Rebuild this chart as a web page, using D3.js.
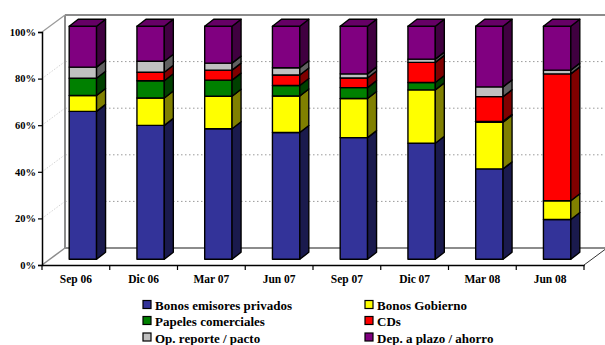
<!DOCTYPE html>
<html>
<head>
<meta charset="utf-8">
<script src="https://cdn.jsdelivr.net/npm/d3@7"></script>
<style>
  html, body { margin: 0; padding: 0; background: #fff; }
  svg { display: block; }
  text { font-family: "Liberation Serif", "Times New Roman", serif; font-weight: bold; fill: #000; }
</style>
</head>
<body>
<svg id="chart" width="605" height="345"></svg>
<script>
// Portfolio composition by quarter (% of total)
const categories = ["Sep 06", "Dic 06", "Mar 07", "Jun 07", "Sep 07", "Dic 07", "Mar 08", "Jun 08"];
const seriesNames = ["Bonos emisores privados", "Bonos Gobierno", "Papeles comerciales", "CDs", "Op. reporte / pacto", "Dep. a plazo / ahorro"];
const bonosPrivados   = [63.5, 57.5, 56.0, 54.4, 52.2, 49.8, 38.8, 17.1];
const bonosGobierno   = [ 6.8, 11.7, 14.0, 15.7, 16.8, 22.9, 20.0,  8.0];
const papelesComerc   = [ 7.4,  7.4,  6.9,  4.5,  4.7,  3.2,  0.4,  0.0];
const cds             = [ 0.0,  3.7,  4.3,  4.5,  4.1,  8.6, 10.6, 54.5];
const opReporte       = [ 4.8,  4.7,  3.0,  3.1,  1.8,  1.4,  4.2,  1.6];
const depPlazo        = [17.5, 15.0, 15.8, 17.8, 20.4, 14.1, 26.0, 18.8];
const yTicks = [0, 20, 40, 60, 80, 100];

const seriesValues = [bonosPrivados, bonosGobierno, papelesComerc, cds, opReporte, depPlazo];
const frontColors = ["#333399", "#ffff00", "#008000", "#ff0000", "#c0c0c0", "#800080"];
const sideColors  = ["#1a1a4d", "#808000", "#004000", "#800000", "#606060", "#400040"];
const topColors   = ["#29297a", "#cccc00", "#006600", "#cc0000", "#9a9a9a", "#660066"];

const svg = d3.select("#chart");

// Plot frame: front plane and depth offset of the back wall
const plotLeft = 42, plotRight = 584, plotBottom = 265, plotTop = 32;
const depthX = 23, depthY = -17;
// bars sit a little behind the front plane and have their own depth
const barShiftX = 7, barShiftY = -5.7;
const barDX = 9, barDY = -7;

const x = d3.scaleBand().domain(categories).range([plotLeft, plotRight])
  .paddingInner(0.596).paddingOuter(0.298);
const y = d3.scaleLinear().domain([0, 100]).range([plotBottom, plotTop]);

// Back wall gridlines (dotted)
const grid = svg.append("g");
yTicks.filter(t => t > 0 && t < 100).forEach(t => {
  grid.append("line")
    .attr("x1", plotLeft + depthX).attr("x2", 605)
    .attr("y1", y(t) + depthY).attr("y2", y(t) + depthY)
    .attr("stroke", "#9a9a9a").attr("stroke-width", 1).attr("stroke-dasharray", "1.5,2.5");
  grid.append("line")
    .attr("x1", plotLeft).attr("x2", plotLeft + depthX)
    .attr("y1", y(t)).attr("y2", y(t) + depthY)
    .attr("stroke", "#c8c8c8").attr("stroke-width", 0.8).attr("stroke-dasharray", "1.5,1.5");
});

// Walls and floor edges
const frame = svg.append("g").attr("fill", "none");
frame.append("line") // back wall top
  .attr("x1", plotLeft + depthX).attr("x2", 605)
  .attr("y1", y(100) + depthY).attr("y2", y(100) + depthY)
  .attr("stroke", "#8c8c8c").attr("stroke-width", 2);
frame.append("line") // back wall left edge
  .attr("x1", plotLeft + depthX).attr("x2", plotLeft + depthX)
  .attr("y1", y(100) + depthY).attr("y2", y(0) + depthY)
  .attr("stroke", "#8c8c8c").attr("stroke-width", 2);
frame.append("line") // floor back edge
  .attr("x1", plotLeft + depthX).attr("x2", 605)
  .attr("y1", y(0) + depthY).attr("y2", y(0) + depthY)
  .attr("stroke", "#8c8c8c").attr("stroke-width", 2);
frame.append("line") // side wall top
  .attr("x1", plotLeft).attr("x2", plotLeft + depthX)
  .attr("y1", y(100)).attr("y2", y(100) + depthY)
  .attr("stroke", "#9a9a9a").attr("stroke-width", 1.2);
frame.append("line") // floor left edge
  .attr("x1", plotLeft).attr("x2", plotLeft + depthX)
  .attr("y1", y(0)).attr("y2", y(0) + depthY)
  .attr("stroke", "#8c8c8c").attr("stroke-width", 1.5);
frame.append("line") // floor right edge
  .attr("x1", plotRight).attr("x2", plotRight + depthX)
  .attr("y1", y(0)).attr("y2", y(0) + depthY)
  .attr("stroke", "#333").attr("stroke-width", 1);

// Stacked 3D bars
const stackData = categories.map((c, i) => {
  const row = { cat: c };
  seriesValues.forEach((s, k) => row["s" + k] = s[i]);
  return row;
});
const stacked = d3.stack().keys(seriesValues.map((_, k) => "s" + k))(stackData);

const bars = svg.append("g").attr("stroke", "#000").attr("stroke-width", 1.4).attr("stroke-linejoin", "round");
const bw = x.bandwidth();
categories.forEach((c, i) => {
  const x0 = x(c) + barShiftX;
  const x1 = x0 + bw;
  let topIdx = -1;
  stacked.forEach((layer, k) => {
    const [v0, v1] = layer[i];
    if (v1 - v0 <= 0) return;
    topIdx = k;
    const yb = y(v0) + barShiftY, yt = y(v1) + barShiftY;
    bars.append("rect")
      .attr("x", x0).attr("y", yt).attr("width", bw).attr("height", yb - yt)
      .attr("fill", frontColors[k]);
    bars.append("path")
      .attr("d", `M${x1},${yb}L${x1 + barDX},${yb + barDY}L${x1 + barDX},${yt + barDY}L${x1},${yt}Z`)
      .attr("fill", sideColors[k]);
  });
  const yt = y(stacked[topIdx][i][1]) + barShiftY;
  bars.append("path")
    .attr("d", `M${x0},${yt}L${x0 + barDX},${yt + barDY}L${x1 + barDX},${yt + barDY}L${x1},${yt}Z`)
    .attr("fill", topColors[topIdx]);
});

// Axes
const yAxis = svg.append("g").attr("transform", `translate(${plotLeft},0)`)
  .call(d3.axisLeft(y).tickValues(yTicks).tickFormat(d => d + "%").tickSize(4).tickPadding(2));
yAxis.select(".domain").attr("stroke", "#000").attr("stroke-width", 1.5);
yAxis.selectAll(".tick line").attr("stroke", "#000").attr("stroke-width", 1.2);
yAxis.selectAll("text").attr("font-size", "10.5px").attr("font-family", "Liberation Serif").attr("font-weight", "bold").attr("fill", "#000");

const xAxis = svg.append("g").attr("transform", `translate(0,${plotBottom})`)
  .call(d3.axisBottom(x).tickSize(0).tickPadding(10));
xAxis.select(".domain").attr("stroke", "#000").attr("stroke-width", 1.5);
xAxis.selectAll("text").attr("font-size", "11.5px").attr("font-family", "Liberation Serif").attr("font-weight", "bold").attr("fill", "#000");
// category boundary ticks
const step = x.step();
d3.range(categories.length + 1).forEach(j => {
  xAxis.append("line")
    .attr("x1", plotLeft + j * step).attr("x2", plotLeft + j * step)
    .attr("y1", 0).attr("y2", 5)
    .attr("stroke", "#000").attr("stroke-width", 1.2);
});

// Legend
const legend = svg.append("g");
const legendCols = [143, 365];
const legendRows = [305.5, 321.5, 338];
seriesNames.forEach((name, k) => {
  const lx = legendCols[k % 2], ly = legendRows[Math.floor(k / 2)];
  legend.append("rect")
    .attr("x", lx).attr("y", ly - 5).attr("width", 8).attr("height", 8)
    .attr("fill", frontColors[k]).attr("stroke", "#000").attr("stroke-width", 1.2);
  legend.append("text")
    .attr("x", lx + 12).attr("y", ly).attr("dy", "0.35em")
    .attr("font-size", "13px")
    .text(name);
});
</script>
</body>
</html>
